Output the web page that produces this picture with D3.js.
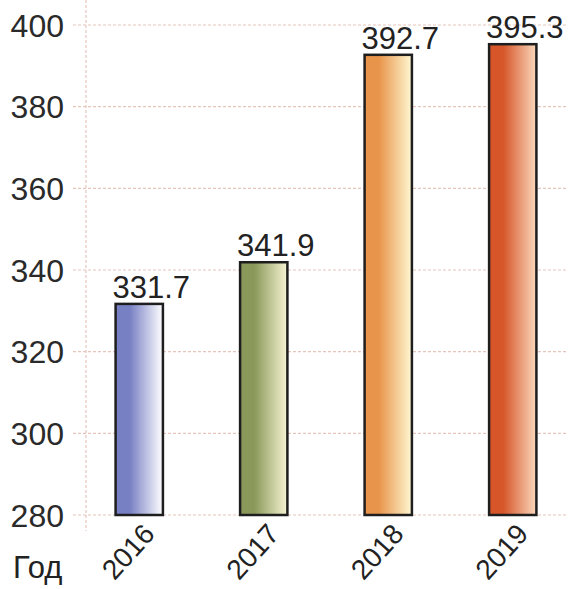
<!DOCTYPE html>
<html>
<head>
<meta charset="utf-8">
<script src="https://cdn.jsdelivr.net/npm/d3@7"></script>
<style>
  body { margin: 0; background: #fff; }
  svg { display: block; font-family: "Liberation Sans", Arial, sans-serif; }
</style>
</head>
<body>
<div class="canvas"></div>
<script>
// chart data
const years = ["2016", "2017", "2018", "2019"]
const values = [331.7, 341.9, 392.7, 395.3]
const yTicks = [280, 300, 320, 340, 360, 380, 400]
const darkColors = ["#7880c4", "#8a985a", "#e8944a", "#d6562a"]
const lightColors = ["#ffffff", "#f6f4d2", "#fff8d2", "#fad8bc"]
const axisLabel = "Год"

const dims = { width: 568, height: 589 }

const svg = d3.select(".canvas")
    .append("svg")
    .attr("width", dims.width)
    .attr("height", dims.height)

// scales
const x = d3.scaleBand()
    .domain(years)
    .range([77, 575])
    .paddingInner(0.62)
    .paddingOuter(0.31)

const y = d3.scaleLinear()
    .domain([280, 400])
    .range([515, 25])

// gradients, one per bar
const defs = svg.append("defs")
years.forEach((yr, i) => {
    const g = defs.append("linearGradient")
        .attr("id", "grad" + i)
        .attr("x1", "0%").attr("x2", "100%")
        .attr("y1", "0%").attr("y2", "0%")
    g.append("stop").attr("offset", "0%").attr("stop-color", darkColors[i])
    g.append("stop").attr("offset", "30%").attr("stop-color", darkColors[i])
    g.append("stop").attr("offset", "100%").attr("stop-color", lightColors[i])
})

// grid lines
svg.append("g")
    .selectAll("line")
    .data(yTicks)
    .enter()
    .append("line")
    .attr("x1", 73)
    .attr("x2", dims.width)
    .attr("y1", d => y(d))
    .attr("y2", d => y(d))
    .attr("stroke", "#e6c6bc")
    .attr("stroke-width", 1.2)
    .attr("stroke-dasharray", "3,2")

// y axis line
svg.append("line")
    .attr("x1", 86).attr("x2", 86)
    .attr("y1", 0).attr("y2", 531)
    .attr("stroke", "#e6c6bc")
    .attr("stroke-width", 1.2)
    .attr("stroke-dasharray", "3,2")

// y tick labels
svg.append("g")
    .selectAll("text")
    .data(yTicks)
    .enter()
    .append("text")
    .attr("x", 64)
    .attr("y", d => y(d))
    .attr("dy", "0.36em")
    .attr("text-anchor", "end")
    .attr("font-size", 32)
    .attr("fill", "#2a2a2a")
    .text(d => d)

// bars
svg.append("g")
    .selectAll("rect")
    .data(values)
    .enter()
    .append("rect")
    .attr("x", (d, i) => x(years[i]))
    .attr("y", d => y(d))
    .attr("width", x.bandwidth())
    .attr("height", d => y(280) - y(d))
    .attr("fill", (d, i) => `url(#grad${i})`)
    .attr("stroke", "#1e1e1e")
    .attr("stroke-width", 2.5)

// value labels
svg.append("g")
    .selectAll("text")
    .data(values)
    .enter()
    .append("text")
    .attr("x", (d, i) => x(years[i]) + x.bandwidth() / 2 + 12)
    .attr("y", d => y(d) - 6)
    .attr("text-anchor", "middle")
    .attr("font-size", 31)
    .attr("fill", "#222")
    .text(d => d.toFixed(1))

// x labels, rotated
svg.append("g")
    .selectAll("text")
    .data(years)
    .enter()
    .append("text")
    .attr("text-anchor", "end")
    .attr("font-size", 28)
    .attr("fill", "#222")
    .attr("transform", d => `translate(${x(d) + x.bandwidth() / 2 + 17}, 535) rotate(-48)`)
    .text(d => d)

svg.append("text")
    .attr("x", 13)
    .attr("y", 578)
    .attr("font-size", 31)
    .attr("fill", "#222")
    .text(axisLabel)
</script>
</body>
</html>
